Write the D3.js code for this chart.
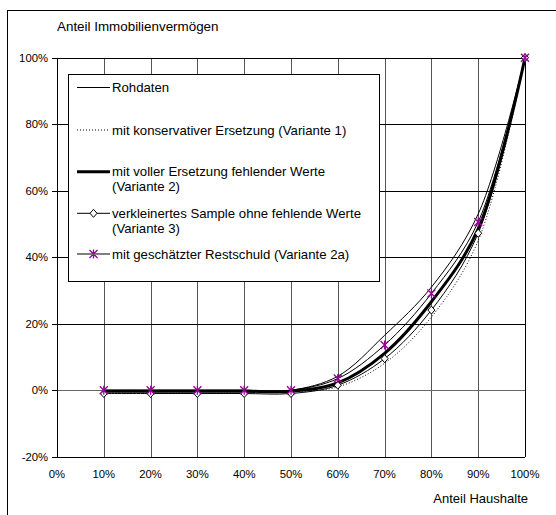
<!DOCTYPE html>
<html><head><meta charset="utf-8">
<script src="https://cdn.jsdelivr.net/npm/d3@7"></script>
<style>
body{margin:0;background:#fff;}
svg{display:block;font-family:Arial,"Liberation Sans",sans-serif;}
</style></head><body>
<svg id="c" width="556" height="515"></svg>
<script>
const xValues = [0.1,0.2,0.3,0.4,0.5,0.6,0.7,0.8,0.9,1.0];
const xTicks = [0,0.1,0.2,0.3,0.4,0.5,0.6,0.7,0.8,0.9,1.0];
const yTicks = [-0.2,0,0.2,0.4,0.6,0.8,1.0];
const rohdaten = [0,0,0,0,0,4.2,16.5,31,53,100];
const variante1 = [-0.5,-0.5,-0.5,-0.5,-0.5,1.0,8.1,22,45,100];
const variante2 = [-0.3,-0.3,-0.3,-0.3,-0.3,2.2,11.1,26.6,48.5,100];
const variante3 = [-1,-1,-1,-1,-1,1.5,9.5,24.1,47.2,100];
const variante2a = [0,0,0,0,0,3.5,13.6,29.1,50.6,100];
const legendLabels = [
  ["Rohdaten"],
  ["mit konservativer Ersetzung (Variante 1)"],
  ["mit voller Ersetzung fehlender Werte","(Variante 2)"],
  ["verkleinertes Sample ohne fehlende Werte","(Variante 3)"],
  ["mit geschätzter Restschuld (Variante 2a)"]
];

const svg = d3.select("#c");
const x = d3.scaleLinear().domain([0,1]).range([57,525]);
const y = d3.scaleLinear().domain([-0.2,1]).range([456.7,57.7]);
const purple = "#990099";

// outer frame
svg.append("rect").attr("x",7.5).attr("y",10.5).attr("width",600).attr("height",600)
  .attr("fill","none").attr("stroke","#000").attr("stroke-width",1);

// gridlines
const g = svg.append("g").attr("shape-rendering","crispEdges");
g.selectAll(".vg").data(xTicks.slice(1)).enter().append("line")
  .attr("x1",d=>Math.round(x(d))+0.5).attr("x2",d=>Math.round(x(d))+0.5)
  .attr("y1",y(1)).attr("y2",y(-0.2)).attr("stroke",d=>d===1?"#000":"#555");
g.selectAll(".hg").data(yTicks).enter().append("line")
  .attr("x1",x(0)).attr("x2",x(1))
  .attr("y1",d=>Math.round(y(d))+0.5).attr("y2",d=>Math.round(y(d))+0.5)
  .attr("stroke",d=>d===0?"#666":"#000");
// left axis
g.append("line").attr("x1",Math.round(x(0))+0.5).attr("x2",Math.round(x(0))+0.5)
  .attr("y1",y(1)).attr("y2",y(-0.2)+0.5).attr("stroke","#000");
g.selectAll(".yt").data(yTicks).enter().append("line")
  .attr("x1",x(0)-5).attr("x2",x(0))
  .attr("y1",d=>Math.round(y(d))+0.5).attr("y2",d=>Math.round(y(d))+0.5)
  .attr("stroke","#000");

// tick labels
const fmt = d=>Math.round(d*100)+"%";
svg.selectAll(".yl").data(yTicks).enter().append("text")
  .attr("x",48).attr("y",d=>y(d)+4).attr("text-anchor","end")
  .attr("font-size","11.3px").text(fmt);
svg.selectAll(".xl").data(xTicks).enter().append("text")
  .attr("x",d=>x(d)).attr("y",478).attr("text-anchor","middle")
  .attr("font-size","11.3px").text(fmt);

// titles
svg.append("text").attr("x",57).attr("y",30.5).attr("font-size","13.4px").text("Anteil Immobilienvermögen");
svg.append("text").attr("x",528).attr("y",502.5).attr("text-anchor","end").attr("font-size","13px").text("Anteil Haushalte");

// series
const line = d3.line().x(d=>x(d[0])).y(d=>y(d[1]/100)).curve(d3.curveCatmullRom.alpha(0.5));
const zip = arr => xValues.map((v,i)=>[v,arr[i]]);
const series = [
  {data:rohdaten, w:1, dash:null},
  {data:variante1, w:1, dash:"1,2"},
  {data:variante3, w:1, dash:null, marker:"diamond"},
  {data:variante2a, w:1, dash:null, marker:"star"},
  {data:variante2, w:3, dash:null}
];
const sg = svg.append("g");
series.forEach(s=>{
  sg.append("path").attr("d",line(zip(s.data))).attr("fill","none")
    .attr("stroke","#000").attr("stroke-width",s.w)
    .attr("stroke-dasharray",s.dash);
});
const diamond = "M0,-4L3.5,0L0,4L-3.5,0Z";
const star = "M-4,-4L4,4M-4,4L4,-4M0,-4.5L0,4.5";
sg.selectAll(".dm").data(zip(variante3)).enter().append("path")
  .attr("transform",d=>`translate(${x(d[0])},${y(d[1]/100)})`)
  .attr("d",diamond).attr("fill","#fff").attr("stroke","#000").attr("stroke-width",1);
sg.selectAll(".st").data(zip(variante2a)).enter().append("path")
  .attr("transform",d=>`translate(${x(d[0])},${y(d[1]/100)})`)
  .attr("d",star).attr("fill","none").attr("stroke",purple).attr("stroke-width",1.3);

// legend
const lg = svg.append("g");
lg.append("rect").attr("x",68.5).attr("y",74.5).attr("width",311).attr("height",207)
  .attr("fill","#fff").attr("stroke","#000").attr("stroke-width",1).attr("shape-rendering","crispEdges");
const legY = [87.5,130,171.7,213.3,254];
const legStyle = [
  {w:1,dash:null},{w:1,dash:"1,2"},{w:3,dash:null},{w:1,dash:null,marker:"diamond"},{w:1,dash:null,marker:"star"}
];
legendLabels.forEach((lab,i)=>{
  const yy = legY[i];
  const st = legStyle[i];
  lg.append("line").attr("x1",77).attr("x2",110).attr("y1",yy).attr("y2",yy)
    .attr("stroke","#000").attr("stroke-width",st.w).attr("stroke-dasharray",st.dash);
  if(st.marker==="diamond") lg.append("path").attr("transform",`translate(93.5,${yy})`).attr("d",diamond).attr("fill","#fff").attr("stroke","#000");
  if(st.marker==="star") lg.append("path").attr("transform",`translate(93.5,${yy})`).attr("d",star).attr("fill","none").attr("stroke",purple).attr("stroke-width",1.3);
  lab.forEach((t,j)=>{
    lg.append("text").attr("x",112).attr("y",yy+4.5+j*15).attr("font-size","13.2px").text(t);
  });
});
</script>
</body></html>
